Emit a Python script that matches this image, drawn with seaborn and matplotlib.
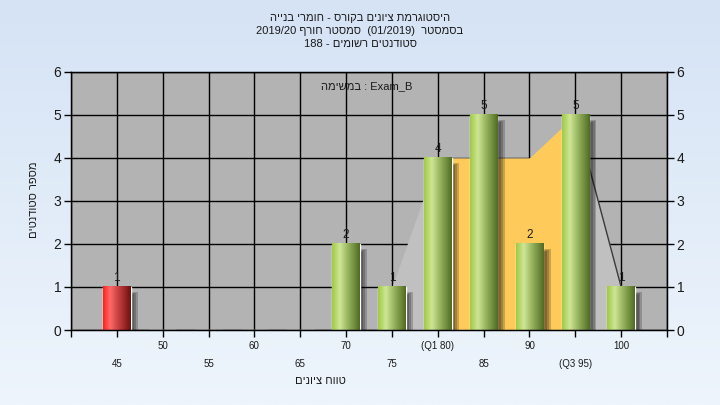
import numpy as np
import pandas as pd
import seaborn as sns
import matplotlib.pyplot as plt
from matplotlib.colors import LinearSegmentedColormap
from matplotlib.patches import Rectangle

# grade ranges and number of students in each
ranges = ['45', '50', '55', '60', '65', '70', '75', '80', '85', '90', '95', '100']
tick_labels = ['45', '50', '55', '60', '65', '70', '75', '(Q1 80)', '85', '90', '(Q3 95)', '100']
counts = [1, 0, 0, 0, 0, 2, 1, 4, 5, 2, 5, 1]
status = ['fail'] + ['pass'] * 11

# background curve and the Q1-Q3 band
curve_ranges = ['75', '80', '85', '90', '95', '100']
curve_counts = [1, 4, 4, 4, 5, 1]
iqr_ranges = ['80', '85', '90', '95']
iqr_counts = [4, 4, 4, 5]
slope_ranges = ['95', '100']
slope_counts = [5, 1]

title_lines = ['היסטוגרמת ציונים בקורס - חומרי בנייה',
               'בסמסטר  (01/2019)  סמסטר חורף 2019/20',
               'סטודנטים רשומים - 188']
task_label = 'במשימה : Exam_B'
x_title = 'טווח ציונים'
y_title = 'מספר סטודנטים'


def flip_words(w):
    return w[::-1] if any('\u0590' <= c <= '\u05ff' for c in w) else w


def visual(s):
    # matplotlib has no bidi support: lay the words out right to left
    return ' '.join(flip_words(w) for w in reversed(s.split(' ')))


def visual_ltr(s):
    return ' '.join(flip_words(w) for w in s.split(' '))


sns.set_style('ticks')
plt.rcParams['font.family'] = ['Liberation Sans', 'DejaVu Sans']

fig = plt.figure(figsize=(7.2, 4.05), dpi=100)

# light blue gradient behind everything
bg = fig.add_axes([0, 0, 1, 1], zorder=-10)
bg.imshow(np.linspace(0, 1, 256).reshape(-1, 1), aspect='auto', extent=[0, 1, 0, 1],
          cmap=LinearSegmentedColormap.from_list('bg', ['#d5e3f5', '#eef5fc']))
bg.axis('off')

ax = fig.add_axes([71 / 720, 1 - 330 / 405, 596 / 720, 258 / 405])
ax.set_facecolor('#b3b3b3')

df = pd.DataFrame({'range': ranges, 'count': counts, 'status': status})
sns.barplot(data=df, x='range', y='count', hue='status', order=ranges,
            palette={'fail': '#e03030', 'pass': '#8fb848'}, width=0.6,
            dodge=False, legend=False, ax=ax, zorder=2)

pos = {r: i for i, r in enumerate(ranges)}
ax.fill_between([pos[r] for r in curve_ranges], curve_counts, color='#c0c0c0', lw=0, zorder=1)
ax.fill_between([pos[r] for r in iqr_ranges], iqr_counts, color='#fecb5a', lw=0, zorder=1.2)
ax.plot([pos[r] for r in slope_ranges], slope_counts, color='#3a3a3a', lw=1, zorder=1.3)

green = LinearSegmentedColormap.from_list('g', [(0, '#9fca45'), (0.28, '#cfe596'), (0.55, '#9bb862'), (1, '#506c24')])
red = LinearSegmentedColormap.from_list('r', [(0, '#ff2020'), (0.25, '#ff6a6a'), (0.55, '#c84040'), (1, '#6e0e0e')])
grad = np.linspace(0, 1, 100).reshape(1, -1)

for p, st in zip(list(ax.patches), status):
    h = p.get_height()
    if h <= 0:
        continue
    x0, w = p.get_x(), p.get_width()
    # soft shadow to the right, a few stacked translucent layers
    for k, dx in enumerate([0.16, 0.12, 0.08, 0.04]):
        ax.add_patch(Rectangle((x0 + dx, -0.12), w, h - 0.02 * k, color='black',
                               alpha=0.2, lw=0, zorder=1.7 + 0.01 * k))
    ax.imshow(grad, extent=[x0, x0 + w, 0, h], aspect='auto',
              cmap=red if st == 'fail' else green, zorder=2.1)
    ax.text(x0 + w / 2, h + 0.08, f'{h:.0f}', ha='center', va='bottom', fontsize=8.5, color='#1a1a1a', zorder=3)

ax.set_xlim(-1, 12)
ax.set_ylim(0, 6)
ax.set_xlabel('')
ax.set_ylabel('')

# staggered tick labels: odd slots on the first row, even slots below
major = [-1] + list(range(1, 12, 2)) + [12]
minor = list(range(0, 12, 2))
ax.set_xticks(major, [''] + [tick_labels[i] for i in range(1, 12, 2)] + [''])
ax.set_xticks(minor, [tick_labels[i] for i in minor], minor=True)
ax.tick_params(axis='x', which='both', length=5, width=1, color='black', labelsize=7, labelcolor='#1a1a1a')
ax.tick_params(axis='x', which='major', pad=3)
ax.tick_params(axis='x', which='minor', pad=16)
ax.set_yticks(range(7))
ax.tick_params(axis='y', length=5, width=1, color='black', labelsize=10, labelcolor='#1a1a1a', pad=2)

ax.set_axisbelow(True)
ax.grid(True, which='both', axis='x', color='black', lw=1)
ax.grid(True, which='major', axis='y', color='black', lw=1)
for s in ax.spines.values():
    s.set_color('black')
    s.set_linewidth(1)

ax2 = ax.twinx()
ax2.set_ylim(0, 6)
ax2.set_yticks(range(7))
ax2.tick_params(axis='y', length=5, width=1, color='black', labelsize=10, labelcolor='#1a1a1a', pad=2)
for s in ax2.spines.values():
    s.set_color('black')

for i, line in enumerate(title_lines):
    fig.text(0.5, 1 - (18 + 13 * i) / 405, visual(line), ha='center', va='center', fontsize=8, color='#1a1a1a')
fig.text(367 / 720, 1 - 86 / 405, visual_ltr(task_label), ha='center', va='center', fontsize=8, color='#1a1a1a')
fig.text(320 / 720, 1 - 381 / 405, visual(x_title), ha='center', va='center', fontsize=8, color='#1a1a1a')
fig.text(34 / 720, 1 - 200 / 405, visual(y_title), ha='center', va='center', rotation=90, fontsize=8, color='#1a1a1a')

fig.savefig('out.png', dpi=100)
